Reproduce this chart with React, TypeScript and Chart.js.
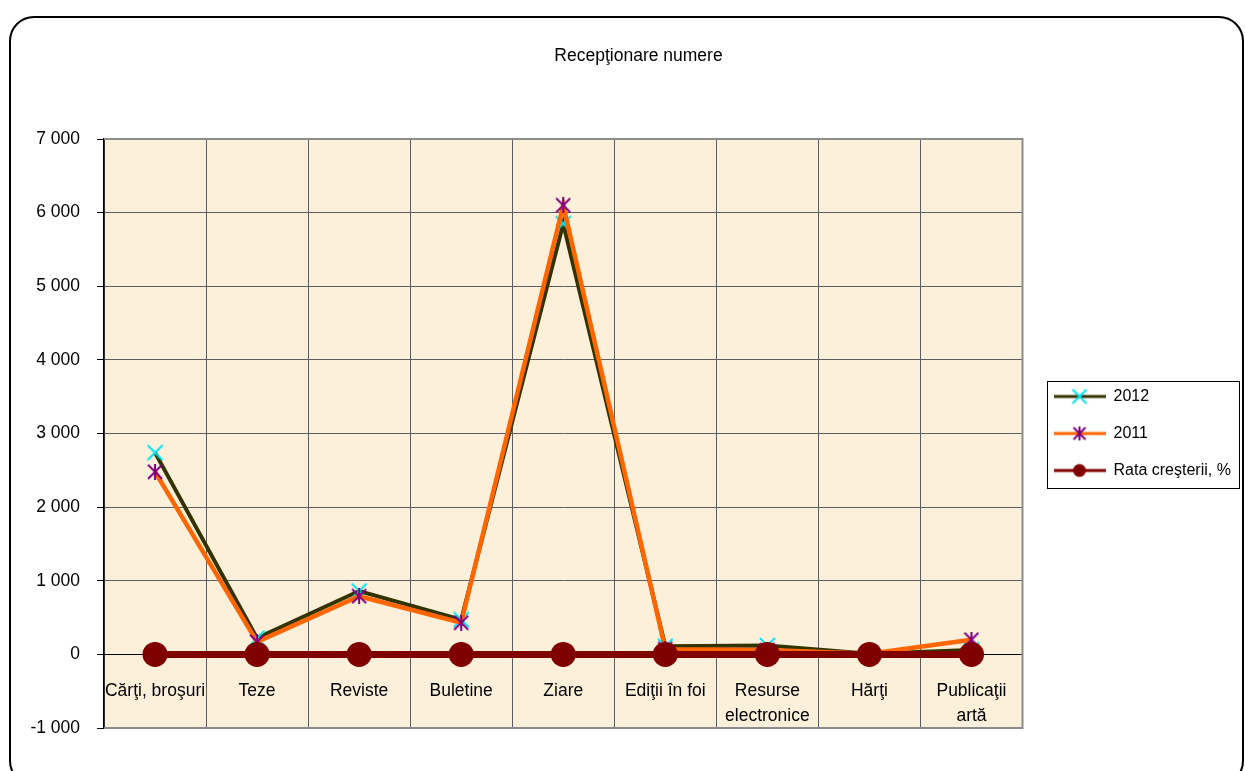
import React, { useEffect, useRef } from "react";
import { Chart, registerables } from "chart.js";

Chart.register(...registerables);

const categories: (string | string[])[] = [
  "Cărţi, broşuri",
  "Teze",
  "Reviste",
  "Buletine",
  "Ziare",
  "Ediţii în foi",
  ["Resurse", "electronice"],
  "Hărţi",
  ["Publicaţii", "artă"],
];
const values2012 = [2740, 220, 860, 470, 5850, 110, 120, 10, 60];
const values2011 = [2480, 170, 790, 430, 6100, 70, 60, 10, 200];
const rataCresterii = [0, 0, 0, 0, 0, 0, 0, 0, 0];
const seriesNames = ["2012", "2011", "Rata creşterii, %"];
const yMin = -1000;
const yMax = 7000;
const yStep = 1000;
const chartTitle = "Recepţionare numere";

const FONT = "'Liberation Sans', Arial, sans-serif";

function fmt(v: number): string {
  const s = String(Math.abs(v)).replace(/\B(?=(\d{3})+(?!\d))/g, " ");
  return (v < 0 ? "-" : "") + s;
}

function makeMarker(kind: "x" | "ast", color: string, size: number, lw: number) {
  const c = document.createElement("canvas");
  c.width = size;
  c.height = size;
  const g = c.getContext("2d")!;
  g.strokeStyle = color;
  g.lineWidth = lw;
  const m = 1;
  g.beginPath();
  g.moveTo(m, m);
  g.lineTo(size - m, size - m);
  g.moveTo(size - m, m);
  g.lineTo(m, size - m);
  if (kind === "ast") {
    g.moveTo(size / 2, 0);
    g.lineTo(size / 2, size);
  }
  g.stroke();
  return c;
}

function makeLegendIcon(lineColor: string, lineW: number, draw: (g: CanvasRenderingContext2D, cx: number, cy: number) => void) {
  const w = 52;
  const h = 18;
  const c = document.createElement("canvas");
  c.width = w;
  c.height = h;
  const g = c.getContext("2d")!;
  g.strokeStyle = lineColor;
  g.lineWidth = lineW;
  g.beginPath();
  g.moveTo(0, h / 2);
  g.lineTo(w, h / 2);
  g.stroke();
  draw(g, w / 2, h / 2);
  return c;
}

export default function App() {
  const ref = useRef<HTMLCanvasElement>(null);

  useEffect(() => {
    if (!ref.current) return;
    const xCyan = makeMarker("x", "#00e5ee", 17, 2);
    const astPurple = makeMarker("ast", "#800080", 16, 2);

    const legIcons = [
      makeLegendIcon("#333300", 3, (g, cx, cy) => {
        const s = 7;
        g.strokeStyle = "#00e5ee";
        g.lineWidth = 2;
        g.beginPath();
        g.moveTo(cx - s, cy - s);
        g.lineTo(cx + s, cy + s);
        g.moveTo(cx + s, cy - s);
        g.lineTo(cx - s, cy + s);
        g.stroke();
      }),
      makeLegendIcon("#ff6600", 3, (g, cx, cy) => {
        const s = 6;
        g.strokeStyle = "#800080";
        g.lineWidth = 2;
        g.beginPath();
        g.moveTo(cx - s, cy - s);
        g.lineTo(cx + s, cy + s);
        g.moveTo(cx + s, cy - s);
        g.lineTo(cx - s, cy + s);
        g.moveTo(cx, cy - s - 1);
        g.lineTo(cx, cy + s + 1);
        g.stroke();
      }),
      makeLegendIcon("#800000", 3, (g, cx, cy) => {
        g.fillStyle = "#800000";
        g.beginPath();
        g.arc(cx, cy, 6.5, 0, Math.PI * 2);
        g.fill();
      }),
    ];

    const decor = {
      id: "decor",
      afterLayout(chart: any) {
        const tb = chart.titleBlock;
        if (tb) {
          const target = 638.5;
          const cur = (tb.left + tb.right) / 2;
          tb.left += target - cur;
          tb.right += target - cur;
        }
      },
      beforeDraw(chart: any) {
        const { ctx, chartArea: a } = chart;
        ctx.save();
        ctx.fillStyle = "#ffffff";
        ctx.fillRect(0, 0, chart.width, chart.height);
        ctx.strokeStyle = "#000000";
        ctx.lineWidth = 2;
        ctx.beginPath();
        (ctx as any).roundRect(10, 17, 1233, 768, 24);
        ctx.stroke();
        ctx.fillStyle = "#fcf0db";
        ctx.fillRect(a.left, a.top, a.right - a.left, a.bottom - a.top);
        ctx.restore();
      },
      beforeDatasetsDraw(chart: any) {
        const { ctx, chartArea: a } = chart;
        ctx.save();
        ctx.strokeStyle = "#8c8c8c";
        ctx.lineWidth = 2;
        ctx.beginPath();
        ctx.moveTo(a.left, a.top);
        ctx.lineTo(a.right, a.top);
        ctx.lineTo(a.right, a.bottom);
        ctx.lineTo(a.left, a.bottom);
        ctx.stroke();
        ctx.restore();
      },
      afterDraw(chart: any) {
        const hb = chart.legend?.legendHitBoxes;
        if (!hb || !hb.length) return;
        const ctx = chart.ctx;
        let l = Infinity, t = Infinity, r = -Infinity, b = -Infinity;
        for (const h of hb) {
          l = Math.min(l, h.left);
          t = Math.min(t, h.top);
          r = Math.max(r, h.left + h.width);
          b = Math.max(b, h.top + h.height);
        }
        ctx.save();
        ctx.strokeStyle = "#000000";
        ctx.lineWidth = 1;
        ctx.strokeRect(Math.round(l - 7) + 0.5, Math.round(t - 8) + 0.5, Math.round(r + 8 - (l - 7)), Math.round(b + 9 - (t - 8)));
        ctx.restore();
      },
    };

    const chart = new Chart(ref.current, {
      type: "line",
      data: {
        labels: categories as any,
        datasets: [
          {
            label: seriesNames[0],
            data: values2012,
            borderColor: "#333300",
            backgroundColor: "#333300",
            borderWidth: 4,
            pointStyle: xCyan as any,
            pointRadius: 8,
            tension: 0,
            order: 3,
          },
          {
            label: seriesNames[1],
            data: values2011,
            borderColor: "#ff6600",
            backgroundColor: "#ff6600",
            borderWidth: 4.5,
            pointStyle: astPurple as any,
            pointRadius: 8,
            tension: 0,
            order: 2,
          },
          {
            label: seriesNames[2],
            data: rataCresterii,
            borderColor: "#800000",
            backgroundColor: "#800000",
            borderWidth: 7,
            pointStyle: "circle",
            pointRadius: 12.5,
            pointBorderWidth: 0,
            tension: 0,
            order: 1,
          },
        ],
      },
      options: {
        responsive: false,
        animation: false,
        layout: { padding: { left: 0, right: 6, top: 0, bottom: 43 } },
        scales: {
          x: {
            type: "category",
            position: { y: 0 } as any,
            offset: true,
            grid: { offset: true, color: "#5e5e5e", lineWidth: 1, drawTicks: false },
            border: { color: "#000000", width: 1 },
            ticks: {
              color: "#000000",
              font: { family: FONT, size: 17.5, lineHeight: 1.43 },
              padding: 24,
              autoSkip: false,
              maxRotation: 0,
              minRotation: 0,
            },
          },
          y: {
            type: "linear",
            position: "left",
            min: yMin,
            max: yMax,
            grid: { color: "#5e5e5e", lineWidth: 1, tickLength: 7, tickColor: "#000000" },
            border: { color: "#000000", width: 1.5 },
            ticks: {
              stepSize: yStep,
              color: "#000000",
              font: { family: FONT, size: 17.5 },
              padding: 17,
              callback: (v: any) => fmt(Number(v)),
            },
            afterFit: (s: any) => {
              s.width = 104;
            },
          },
          sp: {
            type: "linear",
            position: "right",
            display: true,
            grid: { display: false, drawTicks: false },
            ticks: { display: false },
            border: { display: false },
            afterFit: (s: any) => {
              s.width = 10;
            },
          },
        },
        plugins: {
          title: {
            display: true,
            text: chartTitle,
            color: "#000000",
            font: { family: FONT, size: 17.5, weight: "normal" as any },
            padding: { top: 46, bottom: 72 },
          },
          legend: {
            position: "right",
            fullSize: false,
            align: "center",
            labels: {
              usePointStyle: true,
              pointStyleWidth: 52,
              padding: 21,
              color: "#000000",
              font: { family: FONT, size: 16 },
              sort: (a: any, b: any) => a.datasetIndex - b.datasetIndex,
              generateLabels: (ch: any) => {
                const base = Chart.defaults.plugins.legend.labels.generateLabels(ch);
                return base.map((it: any) => ({ ...it, pointStyle: legIcons[it.datasetIndex] }));
              },
            },
          },
          tooltip: { enabled: false },
        },
      },
      plugins: [decor],
    });
    return () => chart.destroy();
  }, []);

  return (
    <div style={{ position: "fixed", left: 0, top: 0, width: 1245, height: 771, background: "#fff" }}>
      <canvas ref={ref} width={1245} height={771} style={{ display: "block" }} />
    </div>
  );
}
